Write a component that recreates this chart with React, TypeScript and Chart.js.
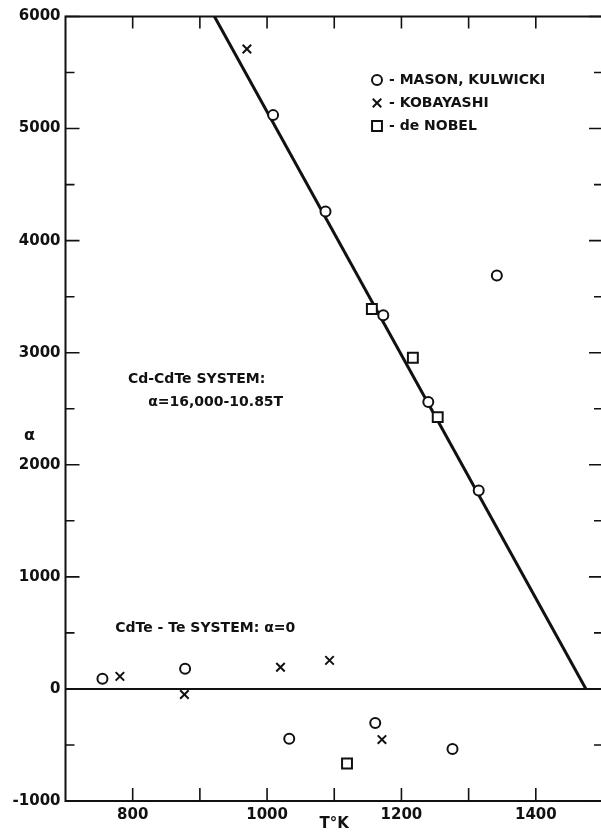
import React, { useEffect, useRef } from 'react';
import { Chart, registerables } from 'chart.js';
import { drawPoint } from 'chart.js/helpers';

Chart.register(...registerables);

// ---- data ----
const masonT = [1009, 1087, 1173, 1240, 1315, 1342, 755, 878, 1033, 1161, 1276];
const masonAlpha = [5120, 4260, 3335, 2560, 1770, 3690, 90, 180, -445, -305, -535];
const kobayashiT = [970, 781, 877, 1020, 1093, 1171];
const kobayashiAlpha = [5710, 112, -50, 193, 255, -452];
const nobelT = [1156, 1217, 1254, 1119];
const nobelAlpha = [3390, 2955, 2425, -665];
const fitT = [921.7, 1474.6];
const fitAlpha = [6000, 0];
const zeroT = [700, 1500];
const zeroAlpha = [0, 0];
const xTickValues = [800, 1000, 1200, 1400];
const xMinorTicks = [800, 900, 1000, 1100, 1200, 1300, 1400];
const yTickValues = [-1000, 0, 1000, 2000, 3000, 4000, 5000, 6000];
const yMinorTicks = [-500, 500, 1500, 2500, 3500, 4500, 5500];
const seriesLabels = ['MASON, KULWICKI', 'KOBAYASHI', 'de NOBEL'];
const xTitle = 'T°K';
const yTitle = 'α';
const noteLines = ['Cd-CdTe SYSTEM:', 'α=16,000-10.85T', 'CdTe - Te SYSTEM: α=0'];

const FONT = '"DejaVu Sans", sans-serif';
const INK = '#111';

const pts = (xs: number[], ys: number[]) => xs.map((x, i) => ({ x, y: ys[i] }));

const markerStyles = [
  { pointStyle: 'circle', radius: 5, borderWidth: 2 },
  { pointStyle: 'crossRot', radius: 6, borderWidth: 2 },
  { pointStyle: 'rect', radius: 7, borderWidth: 2 },
];

const decorPlugin = {
  id: 'decor',
  beforeDatasetsDraw(chart: any) {
    const { ctx, chartArea: a, scales } = chart;
    const xs = scales.x;
    const ys = scales.y;
    ctx.save();
    ctx.strokeStyle = INK;
    ctx.lineWidth = 2;
    ctx.beginPath();
    ctx.moveTo(a.right + 5, a.top);
    ctx.lineTo(a.left, a.top);
    ctx.lineTo(a.left, a.bottom);
    ctx.lineTo(a.right + 5, a.bottom);
    ctx.stroke();
    ctx.lineWidth = 1.6;
    ctx.beginPath();
    const yAll = [...yTickValues.map((v) => [v, 14]), ...yMinorTicks.map((v) => [v, 9])];
    for (const [v, len] of yAll) {
      const py = ys.getPixelForValue(v);
      ctx.moveTo(a.left, py);
      ctx.lineTo(a.left + len, py);
      ctx.moveTo(a.right, py);
      ctx.lineTo(a.right - len, py);
    }
    for (const v of xMinorTicks) {
      const px = xs.getPixelForValue(v);
      ctx.moveTo(px, a.bottom);
      ctx.lineTo(px, a.bottom - 13);
      ctx.moveTo(px, a.top);
      ctx.lineTo(px, a.top + 12);
    }
    ctx.stroke();
    ctx.restore();
  },
  afterDatasetsDraw(chart: any) {
    const { ctx, chartArea: a, scales } = chart;
    const xs = scales.x;
    const ys = scales.y;
    ctx.save();
    ctx.fillStyle = INK;
    ctx.strokeStyle = INK;
    ctx.font = `bold 14px ${FONT}`;
    ctx.textBaseline = 'middle';
    ctx.textAlign = 'left';
    // legend
    const lx = 377;
    const ly = [80, 103, 126];
    seriesLabels.forEach((lab, i) => {
      const m = markerStyles[i];
      ctx.save();
      ctx.lineWidth = m.borderWidth;
      ctx.fillStyle = '#fff';
      drawPoint(ctx, { pointStyle: m.pointStyle, radius: m.radius, borderWidth: m.borderWidth, rotation: 0 }, lx, ly[i]);
      ctx.restore();
      ctx.fillText('- ' + lab, lx + 12, ly[i]);
    });
    // annotations (anchored in data coordinates)
    const notePos = [
      [793, 2766],
      [823, 2561],
      [774, 543],
    ];
    noteLines.forEach((t, i) => {
      ctx.fillText(t, xs.getPixelForValue(notePos[i][0]), ys.getPixelForValue(notePos[i][1]));
    });
    // y axis title (unrotated)
    ctx.font = `bold 16px ${FONT}`;
    ctx.textAlign = 'center';
    ctx.fillText(yTitle, a.left - 36, ys.getPixelForValue(2258));
    ctx.restore();
  },
};

export default function App() {
  const ref = useRef<HTMLCanvasElement>(null);
  useEffect(() => {
    if (!ref.current) return;
    const chart = new Chart(ref.current, {
      type: 'scatter',
      data: {
        datasets: [
          {
            label: seriesLabels[0],
            data: pts(masonT, masonAlpha),
            pointStyle: 'circle',
            pointRadius: markerStyles[0].radius,
            pointBorderWidth: 2,
            pointBorderColor: INK,
            pointBackgroundColor: '#fff',
            order: 0,
          },
          {
            label: seriesLabels[1],
            data: pts(kobayashiT, kobayashiAlpha),
            pointStyle: 'crossRot',
            pointRadius: markerStyles[1].radius,
            pointBorderWidth: 2,
            pointBorderColor: INK,
            pointBackgroundColor: '#fff',
            order: 0,
          },
          {
            label: seriesLabels[2],
            data: pts(nobelT, nobelAlpha),
            pointStyle: 'rect',
            pointRadius: markerStyles[2].radius,
            pointBorderWidth: 2,
            pointBorderColor: INK,
            pointBackgroundColor: '#fff',
            order: 0,
          },
          {
            label: 'fit',
            data: pts(fitT, fitAlpha),
            showLine: true,
            pointRadius: 0,
            borderColor: INK,
            borderWidth: 3,
            order: 1,
          },
          {
            label: 'zero',
            data: pts(zeroT, zeroAlpha),
            showLine: true,
            pointRadius: 0,
            borderColor: INK,
            borderWidth: 2,
            order: 1,
          },
        ],
      },
      options: {
        responsive: false,
        animation: false,
        events: [],
        layout: { padding: { top: 16.5, right: 9, left: 0, bottom: 0 } },
        plugins: { legend: { display: false }, tooltip: { enabled: false } },
        scales: {
          x: {
            type: 'linear',
            min: 700,
            max: 1500,
            grid: { display: false, drawTicks: false },
            border: { display: false },
            afterBuildTicks: (s: any) => {
              s.ticks = xTickValues.map((v) => ({ value: v }));
            },
            ticks: {
              color: INK,
              font: { family: FONT, size: 15, weight: 'bold' },
              padding: 5,
              maxRotation: 0,
              autoSkip: false,
              callback: (v: any) => String(v),
            },
            title: {
              display: true,
              text: xTitle,
              color: INK,
              font: { family: FONT, size: 15, weight: 'bold' },
              padding: { top: 0, bottom: 0 },
            },
            afterFit: (s: any) => {
              s.height = 32;
            },
          },
          y: {
            type: 'linear',
            min: -1000,
            max: 6000,
            grid: { display: false, drawTicks: false },
            border: { display: false },
            afterBuildTicks: (s: any) => {
              s.ticks = yTickValues.map((v) => ({ value: v }));
            },
            ticks: {
              color: INK,
              font: { family: FONT, size: 15, weight: 'bold' },
              padding: 5,
              autoSkip: false,
              callback: (v: any) => String(v),
            },
            afterFit: (s: any) => {
              s.width = 65.5;
            },
          },
        },
      },
      plugins: [decorPlugin],
    } as any);
    return () => chart.destroy();
  }, []);
  return (
    <div
      style={{
        position: 'fixed',
        left: 0,
        top: 0,
        width: 601,
        height: 833,
        overflow: 'hidden',
        background: '#fff',
      }}
    >
      <canvas ref={ref} width={612} height={833} style={{ display: 'block' }} />
    </div>
  );
}
